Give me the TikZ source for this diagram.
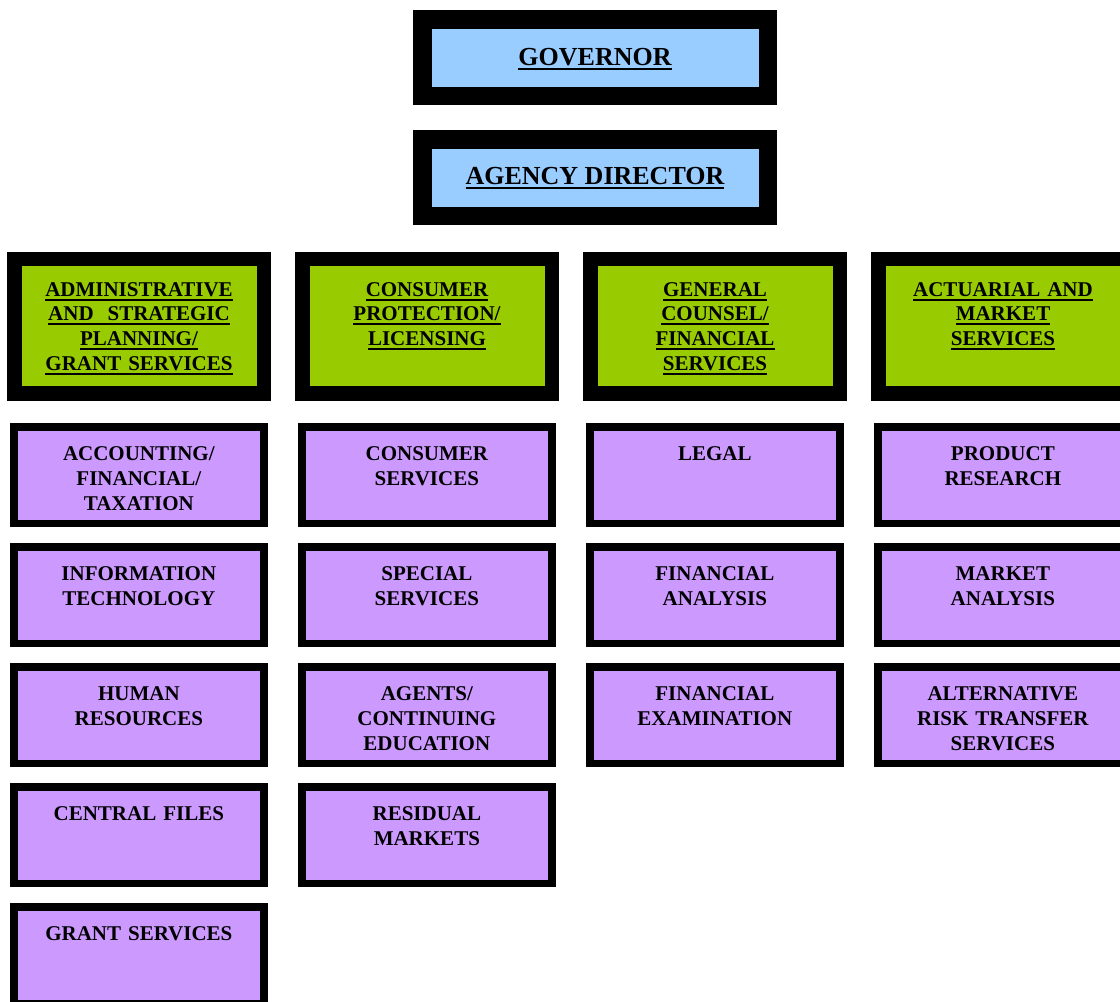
\documentclass[tikz,border=0pt]{standalone}
\usepackage{fontspec}
\setmainfont{Liberation Serif}
\newcommand\ulin[1]{\leavevmode{\setbox0\hbox{#1}\rlap{\rule[-4.6pt]{\wd0}{2pt}}\box0}}
\definecolor{govblue}{HTML}{99CCFF}
\definecolor{hgreen}{HTML}{99CC00}
\definecolor{dpurple}{HTML}{CC99FF}
\tikzset{
  govbox/.style={draw=black, fill=govblue, line width=18.5pt, minimum width=345.5pt, minimum height=76.5pt, inner sep=0pt},
  headbox/.style={draw=black, fill=hgreen, line width=14.5pt, minimum width=249.5pt, minimum height=134.5pt, inner sep=0pt},
  deptbox/.style={draw=black, fill=dpurple, line width=7.8pt, minimum width=249.9pt, minimum height=96.8pt, inner sep=0pt},
  govtext/.style={font=\fontsize{26}{31}\selectfont\bfseries, anchor=base, inner sep=0pt},
  headtext/.style={font=\fontsize{21}{24.8}\selectfont\bfseries, text width=245pt, align=center, anchor=base, inner sep=0pt},
  depttext/.style={font=\fontsize{21}{25}\selectfont\bfseries, text width=245pt, align=center, anchor=base, inner sep=0pt}
}
\begin{document}
\begin{tikzpicture}[x=1pt,y=-1pt]
\useasboundingbox (0,0) rectangle (1120,1002);
\clip (0,0) rectangle (1120,1002);
% top
\node[govbox] (gov) at (595,57.5) {};
\node[govtext] (govt) at (595,65) {\ulin{GOVERNOR}};
\node[govbox] (dir) at (595,177.5) {};
\node[govtext] (dirt) at (595,184.5) {\ulin{AGENCY DIRECTOR}};
% heads
\node[headbox] (h1) at (139,326.2) {};
\node[headbox] (h2) at (427,326.2) {};
\node[headbox] (h3) at (715,326.2) {};
\node[headbox] (h4) at (1003,326.2) {};
\node[headtext] (h1t) at (139,296) {\ulin{ADMINISTRATIVE}\\\ulin{AND~~STRATEGIC}\\\ulin{PLANNING/}\\\ulin{GRANT SERVICES}};
\node[headtext] (h2t) at (427,296) {\ulin{CONSUMER}\\\ulin{PROTECTION/}\\\ulin{LICENSING}};
\node[headtext] (h3t) at (715,296) {\ulin{GENERAL}\\\ulin{COUNSEL/}\\\ulin{FINANCIAL}\\\ulin{SERVICES}};
\node[headtext] (h4t) at (1003,296) {\ulin{ACTUARIAL AND}\\\ulin{MARKET}\\\ulin{SERVICES}};
% column 1
\node[deptbox] (a1) at (138.85,475) {};
\node[deptbox] (a2) at (138.85,595) {};
\node[deptbox] (a3) at (138.85,715) {};
\node[deptbox] (a4) at (138.85,835) {};
\node[deptbox] (a5) at (138.85,955) {};
\node[depttext] (a1t) at (138.85,460.2) {ACCOUNTING/\\FINANCIAL/\\TAXATION};
\node[depttext] (a2t) at (138.85,580.2) {INFORMATION\\TECHNOLOGY};
\node[depttext] (a3t) at (138.85,700.2) {HUMAN\\RESOURCES};
\node[depttext] (a4t) at (138.85,820.2) {CENTRAL FILES};
\node[depttext] (a5t) at (138.85,940.2) {GRANT SERVICES};
% column 2
\node[deptbox] (b1) at (426.85,475) {};
\node[deptbox] (b2) at (426.85,595) {};
\node[deptbox] (b3) at (426.85,715) {};
\node[deptbox] (b4) at (426.85,835) {};
\node[depttext] (b1t) at (426.85,460.2) {CONSUMER\\SERVICES};
\node[depttext] (b2t) at (426.85,580.2) {SPECIAL\\SERVICES};
\node[depttext] (b3t) at (426.85,700.2) {AGENTS/\\CONTINUING\\EDUCATION};
\node[depttext] (b4t) at (426.85,820.2) {RESIDUAL\\MARKETS};
% column 3
\node[deptbox] (c1) at (714.85,475) {};
\node[deptbox] (c2) at (714.85,595) {};
\node[deptbox] (c3) at (714.85,715) {};
\node[depttext] (c1t) at (714.85,460.2) {LEGAL};
\node[depttext] (c2t) at (714.85,580.2) {FINANCIAL\\ANALYSIS};
\node[depttext] (c3t) at (714.85,700.2) {FINANCIAL\\EXAMINATION};
% column 4
\node[deptbox] (d1) at (1002.85,475) {};
\node[deptbox] (d2) at (1002.85,595) {};
\node[deptbox] (d3) at (1002.85,715) {};
\node[depttext] (d1t) at (1002.85,460.2) {PRODUCT\\RESEARCH};
\node[depttext] (d2t) at (1002.85,580.2) {MARKET\\ANALYSIS};
\node[depttext] (d3t) at (1002.85,700.2) {ALTERNATIVE\\RISK TRANSFER\\SERVICES};
\end{tikzpicture}
\end{document}
